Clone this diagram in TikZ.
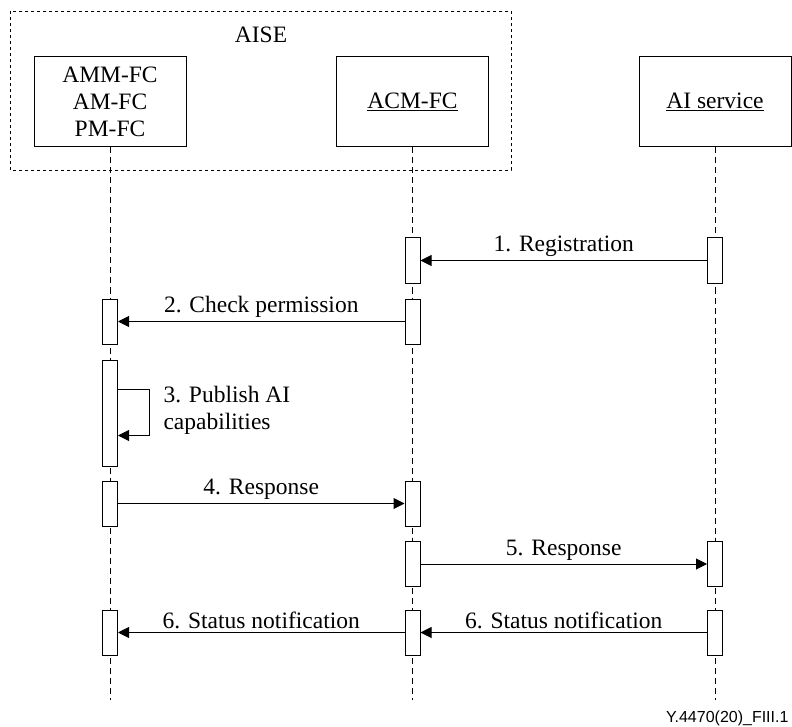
\documentclass[tikz,border=0pt]{standalone}
\usepackage{fontspec}
\setmainfont{Liberation Serif}
\newfontfamily\figidfont{Liberation Sans}
\usetikzlibrary{arrows.meta}

\tikzset{
    entity/.style={draw, line width=1pt, minimum width=152pt, minimum height=90pt,
        align=center, inner sep=0pt},
    actbox/.style={draw, line width=1pt, fill=white, minimum width=15pt,
        minimum height=45pt, inner sep=0pt},
    lifeline/.style={line width=0.8pt, dash pattern=on 6pt off 4pt},
    msg/.style={line width=1pt, -{Triangle[length=11pt,width=11pt]}},
}

\begin{document}
\begin{tikzpicture}[x=1pt, y=-1pt, font=\fontsize{23.5}{27}\selectfont]
        \useasboundingbox (0,0) rectangle (792,727);

        % AISE group
        \draw[line width=0.9pt, dash pattern=on 3pt off 3pt] (10,11) rectangle (511,170);
        \node (aise) at (261,35) {AISE};

        % entities
        \node[entity] (mgmt) at (110,102) {AMM-FC\\AM-FC\\PM-FC};
        \node[entity] (acm) at (412.5,102) {\underline{ACM-FC}};
        \node[entity] (svc) at (715,102) {\underline{AI service}};

        \foreach \n in {mgmt, acm, svc}
            \draw[lifeline] (\n.south) -- (\n.south |- 0,700);

        % activation boxes
        \foreach \n/\x/\y in {svc1/715/260.5, acm1/412.5/260.5,
                acm2/412.5/321.5, mgmt2/110/321.5,
                mgmt4/110/503.5, acm4/412.5/503.5,
                acm5/412.5/564, svc5/715/564,
                svc6/715/632.5, acm6/412.5/632.5, mgmt6/110/632.5}
            \node[actbox] (\n) at (\x,\y) {};
        \node[actbox, minimum height=106pt] (mgmt3) at (110,413) {};

        % messages
        \draw[msg] (svc1.west) -- node[above] {1. Registration} (acm1.east);
        \draw[msg] (acm2.west) -- node[above] {2. Check permission} (mgmt2.east);
        \draw[msg] ([yshift=-30pt]mgmt3.north east) -- ++(31,0)
            |- ([yshift=31pt]mgmt3.south east);
        \node[anchor=west, align=left] (pubtext) at (160,410) {3. Publish AI\\capabilities};
        \draw[msg] (mgmt4.east) -- node[above] {4. Response} (acm4.west);
        \draw[msg] (acm5.east) -- node[above] {5. Response} (svc5.west);
        \draw[msg] (svc6.west) -- node[above] {6. Status notification} (acm6.east);
        \draw[msg] (acm6.west) -- node[above] {6. Status notification} (mgmt6.east);

        \node[anchor=east, font=\figidfont\fontsize{16}{18}\selectfont] (figid) at (792,718)
            {Y.4470(20)\_FIII.1};
\end{tikzpicture}
\end{document}
